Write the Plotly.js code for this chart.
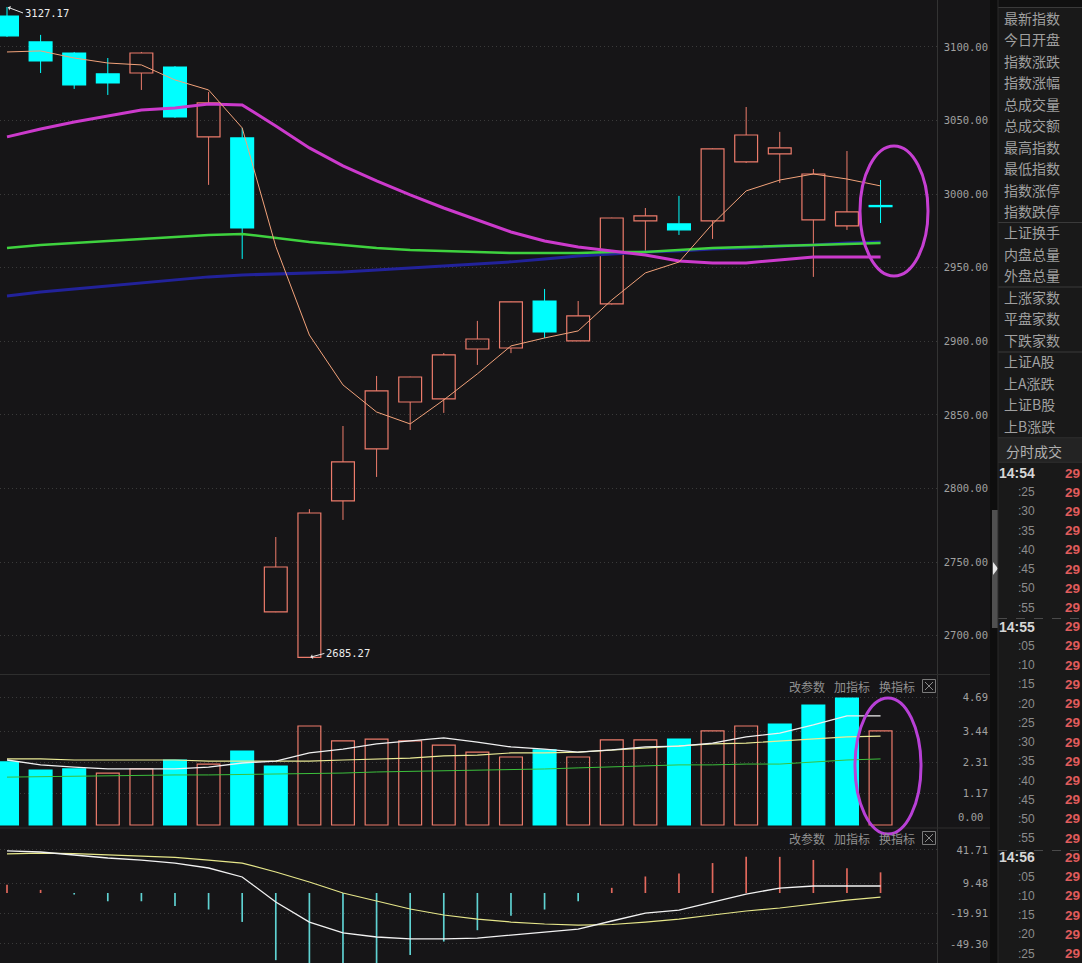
<!DOCTYPE html>
<html><head><meta charset="utf-8">
<script src="https://cdn.plot.ly/plotly-3.0.1.min.js"></script>
<style>html,body{margin:0;padding:0;background:#161517;overflow:hidden}#chart{width:1082px;height:963px}</style>
</head><body><div id="chart"></div>
<script>
// ---- daily K-line data ----
const openP  = [3121.0,3103.4,3095.9,3081.7,3082.3,3086.4,3038.9,3038.2,2716.2,2685.27,2791.6,2826.9,2858.8,2860.9,2894.8,2895.5,2927.4,2900.3,2925.4,2981.8,2979.8,2981.8,3021.9,3027.3,2982.5,2978.4,2992.3];
const highP  = [3127.17,3108.2,3096.6,3092.5,3096.6,3087.0,3069.4,3045.0,2767.1,2786.0,2842.5,2876.5,2876.0,2892.1,2913.9,2927.0,2935.6,2927.4,2984.0,2990.6,2998.8,3031.0,3059.2,3042.3,3017.1,3029.3,3009.6];
const lowP   = [3106.8,3082.3,3071.5,3067.4,3070.8,3051.8,3006.3,2956.0,2716.0,2685.27,2778.7,2807.9,2839.8,2851.4,2884.0,2892.0,2902.3,2900.3,2925.0,2960.0,2972.3,2969.6,3021.2,3007.6,2943.8,2975.7,2980.4];
const closeP = [3107.5,3090.5,3074.2,3075.5,3095.9,3052.4,3062.0,2977.0,2746.7,2783.4,2818.1,2866.3,2875.8,2890.8,2901.6,2926.8,2906.4,2917.3,2983.8,2985.2,2975.7,3030.7,3040.2,3031.4,3013.7,2987.9,2991.5];
// moving averages on the price panel
const maOrange  = [3096.6,3097.3,3092.5,3089.1,3087.8,3077.6,3070.8,3045.0,2964.5,2904.3,2870.4,2852.0,2843.9,2860.2,2877.9,2896.9,2902.3,2907.1,2928.1,2946.5,2953.9,2979.8,3002.2,3009.6,3013.7,3010.3,3005.6];
const maMagenta = [3038.9,3044.3,3049.0,3053.1,3057.2,3058.6,3061.3,3060.6,3046.3,3031.4,3019.2,3009.0,2999.5,2990.6,2982.5,2974.3,2968.2,2964.1,2961.4,2958.7,2954.6,2953.3,2953.3,2955.3,2957.3,2957.3,2957.3];
const maGreen   = [2963.5,2965.5,2966.8,2968.2,2969.6,2970.9,2972.3,2973.0,2970.2,2967.5,2965.5,2963.5,2962.1,2961.4,2960.7,2960.0,2960.0,2960.0,2960.7,2960.7,2962.1,2963.5,2964.1,2964.8,2965.5,2966.2,2966.8];
const maBlue    = [2930.8,2933.6,2935.6,2937.6,2939.7,2941.7,2943.8,2945.1,2945.8,2946.5,2947.1,2948.5,2949.9,2951.2,2952.6,2954.0,2956.0,2958.0,2959.4,2960.7,2961.4,2962.8,2963.5,2964.8,2965.5,2966.8,2967.5];
// volume panel
const volume   = [2.32,2.02,2.06,1.91,2.06,2.39,2.24,2.72,2.17,3.64,3.09,3.16,3.09,2.94,2.68,2.50,2.76,2.50,3.13,3.13,3.16,3.46,3.64,3.71,4.41,4.67,3.46];
const volUp    = [0,0,0,1,1,0,1,0,0,1,1,1,1,1,1,1,0,1,1,1,0,1,1,0,0,0,1];
const volMaWhite  = [2.39,2.21,2.13,2.06,2.06,2.06,2.13,2.28,2.35,2.65,2.79,2.98,3.09,3.20,3.05,2.87,2.79,2.68,2.76,2.87,2.90,3.01,3.24,3.38,3.68,4.01,4.01];
const volMaYellow = [2.43,2.43,2.39,2.39,2.39,2.39,2.35,2.35,2.35,2.35,2.39,2.43,2.46,2.54,2.57,2.65,2.65,2.68,2.76,2.83,2.90,2.98,3.01,3.09,3.16,3.24,3.27];
const volMaGreen  = [1.76,1.78,1.80,1.80,1.82,1.84,1.84,1.86,1.88,1.88,1.91,1.95,1.97,1.99,2.02,2.04,2.06,2.10,2.13,2.17,2.21,2.21,2.24,2.24,2.32,2.39,2.43];
// MACD panel
const macdHist = [8,3,-1.5,-8,-8,-12.5,-16,-28,-65,-72,-74,-70,-60,-47,-36,-22,-16,-8,5,16,19,29,35,35,32,24,20];
const macdDif  = [40.7,39.7,36.8,33.9,31.9,29.0,24.2,15.5,-8.7,-28.1,-38.7,-42.6,-44.5,-44.5,-43.6,-40.7,-37.8,-34.9,-27.1,-19.4,-16.5,-8.7,-1.0,4.8,6.8,6.8,6.8];
const macdDea  = [37.8,38.7,38.2,36.8,35.8,34.4,31.9,29.0,20.3,10.6,0.0,-7.7,-15.5,-21.3,-25.2,-28.1,-30.0,-31.0,-30.5,-28.1,-25.2,-21.3,-17.4,-14.5,-10.6,-6.8,-3.9];
// axis ticks
const priceTicks = [3100,3050,3000,2950,2900,2850,2800,2750,2700];
const volTicks   = [4.69,3.44,2.31,1.17];
const volZeroLabel = '0.00';
const macdTicks  = [41.71,9.48,-19.91,-49.30];
// side panel text
const sideLabels = ['最新指数','今日开盘','指数涨跌','指数涨幅','总成交量','总成交额','最高指数','最低指数','指数涨停','指数跌停','上证换手','内盘总量','外盘总量','上涨家数','平盘家数','下跌家数','上证A股','上A涨跌','上证B股','上B涨跌'];
const sideHeader = '分时成交';
const tickTimes  = ['14:54',':25',':30',':35',':40',':45',':50',':55','14:55',':05',':10',':15',':20',':25',':30',':35',':40',':45',':50',':55','14:56',':05',':10',':15',':20',':25'];
const tickPrices = ['29','29','29','29','29','29','29','29','29','29','29','29','29','29','29','29','29','29','29','29','29','29','29','29','29','29'];
const panelTools = ['改参数','加指标','换指标'];

// ---- build ----
const W = 1082, H = 963;
const px = x => x / W, py = y => 1 - y / H;
const RED = '#ec7b6b', CYAN = '#00ffff', BG = '#161517';
const N = openP.length;
const xs = openP.map((_, i) => i);
const up = closeP.map((c, i) => c >= openP[i]);
const bodyBase = openP.map((o, i) => Math.min(o, closeP[i]));
const bodyH = openP.map((o, i) => Math.max(Math.abs(closeP[i] - o), 0.8));

function wick(isUpward) {
  const x = [], y = [];
  for (let i = 0; i < N; i++) {
    if (up[i] !== isUpward) continue;
    const top = Math.max(openP[i], closeP[i]), bot = Math.min(openP[i], closeP[i]);
    if (highP[i] > top) { x.push(i, i, null); y.push(highP[i], top, null); }
    if (lowP[i] < bot) { x.push(i, i, null); y.push(bot, lowP[i], null); }
  }
  return {x, y};
}
const wUp = wick(true), wDn = wick(false);
const line = (y, color, width, xa, ya) => ({type:'scatter', mode:'lines', x: xs, y, xaxis: xa, yaxis: ya,
  line:{color, width, shape:'linear'}, hoverinfo:'skip', showlegend:false});

const traces = [
  {type:'bar', x: xs, y: bodyH, base: bodyBase, width: 0.68, xaxis:'x', yaxis:'y',
   marker:{color: up.map(u => u ? 'rgba(0,0,0,0)' : CYAN), line:{color: up.map(u => u ? RED : CYAN), width: 1.2}},
   hoverinfo:'skip', showlegend:false},
  {type:'scatter', mode:'lines', x: wUp.x, y: wUp.y, xaxis:'x', yaxis:'y', line:{color: RED, width: 1}, hoverinfo:'skip', showlegend:false},
  {type:'scatter', mode:'lines', x: wDn.x, y: wDn.y, xaxis:'x', yaxis:'y', line:{color: CYAN, width: 1}, hoverinfo:'skip', showlegend:false},
  line(maBlue, '#22229a', 3, 'x', 'y'),
  line(maGreen, '#3fd23f', 2.5, 'x', 'y'),
  line(maMagenta, '#cc3acc', 3, 'x', 'y'),
  line(maOrange, '#f2a27a', 1, 'x', 'y'),
  {type:'bar', x: xs, y: volume, base: 0, width: 0.68, xaxis:'x2', yaxis:'y2',
   marker:{color: volUp.map(u => u ? 'rgba(0,0,0,0)' : CYAN), line:{color: volUp.map(u => u ? RED : CYAN), width: 1.2}},
   hoverinfo:'skip', showlegend:false},
  line(volMaGreen, '#3cc03c', 1, 'x2', 'y2'),
  line(volMaYellow, '#eaea96', 1.2, 'x2', 'y2'),
  line(volMaWhite, '#f0f0f0', 1.3, 'x2', 'y2'),
  {type:'bar', x: xs, y: macdHist, base: 0, width: 0.05, xaxis:'x3', yaxis:'y3',
   marker:{color: macdHist.map(v => v >= 0 ? '#e2685c' : '#5fd2d2'), line:{width:0}},
   hoverinfo:'skip', showlegend:false},
  line(macdDea, '#e6e68a', 1.2, 'x3', 'y3'),
  line(macdDif, '#f2f2f2', 1.3, 'x3', 'y3'),
];

const tickFont = {family:'DejaVu Sans Mono', size:10.5, color:'#a0a0a0'};
const xBase = {domain:[0, px(937)], range:[-0.2083, 27.68], showgrid:false, zeroline:false, showticklabels:false, ticks:'', showline:false, fixedrange:true};
const yBase = {side:'left', anchor:'free', position: px(988), showgrid:true, gridcolor:'#3a3a3a', griddash:'1px,3px', gridwidth:1,
  zeroline:false, showline:false, ticks:'', tickfont: tickFont, fixedrange:true};

const layout = {
  width: W, height: H, margin:{l:0, r:0, t:0, b:0},
  paper_bgcolor: BG, plot_bgcolor: BG, barmode:'overlay', showlegend:false, hovermode:false,
  xaxis: Object.assign({}, xBase, {anchor:'y'}),
  xaxis2: Object.assign({}, xBase, {anchor:'y2'}),
  xaxis3: Object.assign({}, xBase, {anchor:'y3'}),
  yaxis: Object.assign({}, yBase, {domain:[py(673), 1], range:[2674.7, 3131.9],
    tickvals: priceTicks, ticktext: priceTicks.map(v => v.toFixed(2))}),
  yaxis2: Object.assign({}, yBase, {domain:[py(827), py(676)], range:[-0.0735, 5.478],
    tickvals: volTicks, ticktext: volTicks.map(v => v.toFixed(2))}),
  yaxis3: Object.assign({}, yBase, {domain:[0, py(829)], range:[-67.76, 61.96],
    tickvals: macdTicks, ticktext: macdTicks.map(v => v.toFixed(2))}),
  shapes: [], annotations: []
};
const S = layout.shapes, A = layout.annotations;
const rect = (x0, y0, x1, y1, fill, lineColor, layer) => S.push({type:'rect', xref:'paper', yref:'paper',
  x0: px(x0), x1: px(x1), y0: py(y1), y1: py(y0), fillcolor: fill, line:{width: lineColor ? 1 : 0, color: lineColor || fill}, layer: layer || 'above'});
const hline = (x0, x1, y, color, dash) => S.push({type:'line', xref:'paper', yref:'paper', x0: px(x0), x1: px(x1), y0: py(y), y1: py(y), line:{color, width:1, dash: dash || 'solid'}});
const vline = (x, y0, y1, color) => S.push({type:'line', xref:'paper', yref:'paper', x0: px(x), x1: px(x), y0: py(y0), y1: py(y1), line:{color, width:1}});

// frame lines
vline(937.5, 0, 963, '#333333');
hline(0, 990, 674.5, '#2e2e2e');
hline(0, 990, 828, '#2e2e2e');
// scroll strip + side panel
rect(990, 0, 998, 963, '#0e0e0e');
rect(992, 510, 998, 628, '#505050');
S.push({type:'path', xref:'paper', yref:'paper', path:`M ${px(993)},${py(562)} L ${px(993)},${py(575)} L ${px(998)},${py(568.5)} Z`, fillcolor:'#e8e8e8', line:{width:0}});
rect(998, 0, 1082, 963, '#191919');
rect(998, 0, 1082, 7, '#101010');
hline(998, 1082, 7.5, '#3a3a3a');
[222.5, 287, 352, 438, 462].forEach(y => hline(998, 1082, y, '#3a3a3a'));
rect(998, 438.5, 1082, 461.5, '#232323');
hline(998, 1082, 618.5, '#4a4a4a', 'dash');
hline(998, 1082, 850.5, '#4a4a4a', 'dash');
vline(998, 0, 963, '#2a2a2a');

// highlight ellipses
S.push({type:'circle', xref:'paper', yref:'paper', x0: px(860), x1: px(928), y0: py(276), y1: py(146), line:{color:'#c63fd2', width:3}});
S.push({type:'circle', xref:'paper', yref:'paper', x0: px(855), x1: px(921), y0: py(834), y1: py(698), line:{color:'#b840d6', width:3}});

// indicator tool headers
const cjk = 'Noto Sans CJK SC';
[686, 838].forEach(yy => {
  [787, 832, 877].forEach((x0, k) => A.push({xref:'paper', yref:'paper', x: px(x0), y: py(yy), xanchor:'left', yanchor:'middle',
    text: panelTools[k], showarrow:false, font:{family: cjk, size:12, color:'#909090'}}));
  rect(922.5, yy - 6.5, 935.5, yy + 6.5, 'rgba(0,0,0,0)', '#7a7a7a');
  S.push({type:'line', xref:'paper', yref:'paper', x0: px(925), x1: px(933), y0: py(yy - 4), y1: py(yy + 4), line:{color:'#8a8a8a', width:1}});
  S.push({type:'line', xref:'paper', yref:'paper', x0: px(933), x1: px(925), y0: py(yy - 4), y1: py(yy + 4), line:{color:'#8a8a8a', width:1}});
});
A.push({xref:'paper', yref:'paper', x: px(985), y: py(817), xanchor:'right', yanchor:'middle', text: volZeroLabel, showarrow:false, font: tickFont});

// extreme labels
A.push({x: 0, y: highP[0], xref:'x', yref:'y', text: highP[0].toFixed(2), showarrow:true, ax:16, ay:6, xanchor:'left', yanchor:'middle',
  arrowhead:1, arrowsize:0.8, arrowwidth:1, arrowcolor:'#e6e6e6', standoff:1, font:{family:'DejaVu Sans Mono', size:10.5, color:'#ececec'}});
A.push({x: 9, y: lowP[9], xref:'x', yref:'y', text: lowP[9].toFixed(2), showarrow:true, ax:15, ay:-4, xanchor:'left', yanchor:'middle',
  arrowhead:1, arrowsize:0.8, arrowwidth:1, arrowcolor:'#e6e6e6', standoff:1, font:{family:'DejaVu Sans Mono', size:10.5, color:'#ececec'}});

// side labels
sideLabels.forEach((t, i) => A.push({xref:'paper', yref:'paper', x: px(1002), y: py(18 + i * 21.45), xanchor:'left', yanchor:'middle',
  text: t, showarrow:false, font:{family: cjk, size:14, color:'#a0a0a0'}}));
A.push({xref:'paper', yref:'paper', x: px(1004), y: py(451), xanchor:'left', yanchor:'middle', text: sideHeader, showarrow:false,
  font:{family: cjk, size:14, color:'#b0b0b0'}});
tickTimes.forEach((t, i) => {
  const y = py(473 + i * 19.22);
  const full = t.length > 3;
  A.push({xref:'paper', yref:'paper', x: full ? px(998) : px(1036), y, xanchor: full ? 'left' : 'right', yanchor:'middle', text: full ? '<b>' + t + '</b>' : t,
    showarrow:false, borderpad:0, font:{family:'Liberation Sans', size: full ? 14 : 12, color: full ? '#d6d6d6' : '#8c8c8c'}});
  A.push({xref:'paper', yref:'paper', x: px(1081), y, xanchor:'right', yanchor:'middle', text: '<b>' + tickPrices[i] + '</b>',
    showarrow:false, borderpad:0, font:{family:'Liberation Sans', size:13.5, color:'#e05c5c'}});
});

Plotly.newPlot('chart', traces, layout, {staticPlot:true, displayModeBar:false});
</script></body></html>
